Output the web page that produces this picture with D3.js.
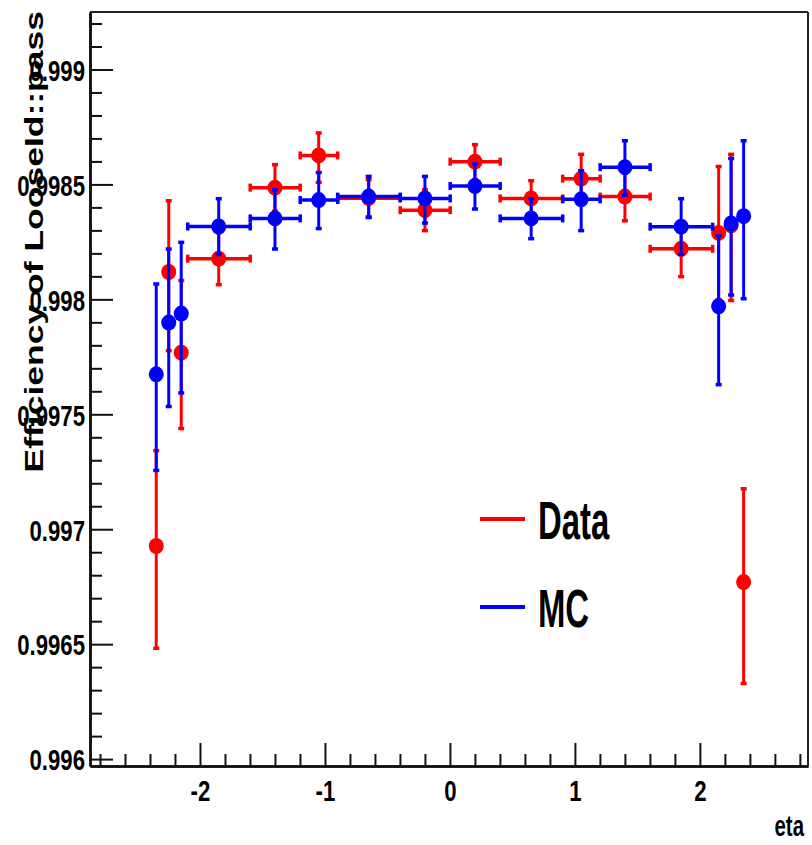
<!DOCTYPE html>
<html>
<head>
<meta charset="utf-8">
<script src="https://cdn.jsdelivr.net/npm/d3@7"></script>
<style>
  html, body { margin: 0; padding: 0; background: #fff; }
  svg { display: block; }
  text { font-family: "Liberation Sans", Arial, Helvetica, sans-serif; font-weight: bold; fill: #000; }
</style>
</head>
<body>
<svg id="chart" width="812" height="845"></svg>
<script>
// ---- data ----
const etaCenter    = [-2.35, -2.25, -2.15, -1.85, -1.4, -1.05, -0.65, -0.2, 0.2, 0.65, 1.05, 1.4, 1.85, 2.15, 2.25, 2.35];
const etaHalfWidth = [0.05, 0.05, 0.05, 0.25, 0.2, 0.15, 0.25, 0.2, 0.2, 0.25, 0.15, 0.2, 0.25, 0.05, 0.05, 0.05];

const dataEff     = [0.996927, 0.998119, 0.997768, 0.998177, 0.998486, 0.998626, 0.998440, 0.998388, 0.998599, 0.998439, 0.998525, 0.998447, 0.998220, 0.998289, 0.998322, 0.996770];
const dataErrHigh = [0.000416, 0.000311, 0.000315, 0.000114, 0.000101, 0.000099, 0.000082, 0.000090, 0.000075, 0.000078, 0.000107, 0.000103, 0.000102, 0.000290, 0.000310, 0.000407];
const dataErrLow  = [0.000444, 0.000341, 0.000329, 0.000112, 0.000102, 0.000116, 0.000080, 0.000088, 0.000077, 0.000078, 0.000108, 0.000104, 0.000120, 0.000289, 0.000326, 0.000440];

const mcEff     = [0.997674, 0.997899, 0.997938, 0.998317, 0.998352, 0.998432, 0.998447, 0.998439, 0.998493, 0.998352, 0.998435, 0.998575, 0.998316, 0.997970, 0.998330, 0.998362];
const mcErrHigh = [0.000394, 0.000321, 0.000311, 0.000122, 0.000126, 0.000121, 0.000089, 0.000097, 0.000097, 0.000087, 0.000126, 0.000116, 0.000123, 0.000307, 0.000284, 0.000329];
const mcErrLow  = [0.000417, 0.000364, 0.000344, 0.000121, 0.000132, 0.000123, 0.000090, 0.000106, 0.000099, 0.000087, 0.000135, 0.000121, 0.000120, 0.000340, 0.000310, 0.000358];

const seriesNames  = ["Data", "MC"];
const seriesColors = ["#ff0000", "#0000ff"];

const xDomain = [-2.88, 2.865];
const yDomain = [0.99597, 0.99925];
const xMajorTicks = [-2, -1, 0, 1, 2];
const yMajorTicks = [0.996, 0.9965, 0.997, 0.9975, 0.998, 0.9985, 0.999];
const xTitle = "eta";
const yTitle = "Efficiency of LooseId::pass";

(function draw() {
// ---- layout ----
const svg = d3.select("#chart");
const pL = 90, pR = 808, pT = 12, pB = 766;
const x = d3.scaleLinear().domain(xDomain).range([pL, pR]);
const y = d3.scaleLinear().domain(yDomain).range([pB, pT]);

const xMinorTicks = d3.range(-14, 15).filter(i => i % 5 !== 0).map(i => i / 5);
const yMinorTicks = d3.range(9960, 9993).filter(i => i % 5 !== 0).map(i => i / 10000);

const labelSize = 30, labelSX = 0.74;

// frame (top and right)
svg.append("line").attr("x1", pL).attr("x2", pR).attr("y1", pT).attr("y2", pT)
  .attr("stroke", "#222").attr("stroke-width", 2);
svg.append("line").attr("x1", pR).attr("x2", pR).attr("y1", pT).attr("y2", pB)
  .attr("stroke", "#222").attr("stroke-width", 2);

// y axis
svg.append("g").attr("transform", `translate(${pL},0)`)
  .call(d3.axisLeft(y).tickValues(yMinorTicks).tickFormat("").tickSizeInner(-12).tickSizeOuter(0));
const gy = svg.append("g").attr("transform", `translate(${pL},0)`)
  .call(d3.axisLeft(y).tickValues(yMajorTicks).tickFormat(d => String(+d.toFixed(4)))
    .tickSizeInner(-23).tickSizeOuter(0).tickPadding(5));
gy.selectAll(".tick text")
  .attr("x", -5 / labelSX).attr("transform", `scale(${labelSX},1)`)
  .style("font-size", labelSize + "px").attr("dy", "0.36em");

// x axis
svg.append("g").attr("transform", `translate(0,${pB})`)
  .call(d3.axisBottom(x).tickValues(xMinorTicks).tickFormat("").tickSizeInner(-12).tickSizeOuter(0));
const gx = svg.append("g").attr("transform", `translate(0,${pB})`)
  .call(d3.axisBottom(x).tickValues(xMajorTicks).tickFormat(d => String(d))
    .tickSizeInner(-23).tickSizeOuter(0).tickPadding(14));
gx.selectAll(".tick text")
  .attr("transform", `scale(${labelSX},1)`).style("font-size", labelSize + "px");

svg.selectAll(".domain").attr("stroke", "#111").attr("stroke-width", 2.5);
svg.selectAll(".tick line").attr("stroke", "#111").attr("stroke-width", 2);
svg.selectAll("g .tick text").style("font-family", "'Liberation Sans', Arial, sans-serif").style("font-weight", "bold").attr("fill", "#000");

// axis titles
svg.append("text").attr("text-anchor", "end")
  .attr("transform", `translate(804,836) scale(0.68,1)`)
  .style("font-size", "30px").text(xTitle);
svg.append("text").attr("text-anchor", "end")
  .attr("transform", `translate(43,11) scale(0.72,1) rotate(-90)`)
  .style("font-size", "35.5px").text(yTitle);

// ---- points ----
const series = [
  { eff: dataEff, hi: dataErrHigh, lo: dataErrLow, color: seriesColors[0] },
  { eff: mcEff, hi: mcErrHigh, lo: mcErrLow, color: seriesColors[1] }
];
const mr = 7.5;
series.forEach(s => {
  const g = svg.append("g");
  etaCenter.forEach((c, i) => {
    const cx = x(c), cy = y(s.eff[i]);
    const yt = y(s.eff[i] + s.hi[i]), yb = y(s.eff[i] - s.lo[i]);
    const xl = x(c - etaHalfWidth[i]), xr = x(c + etaHalfWidth[i]);
    g.append("line").attr("x1", cx).attr("x2", cx).attr("y1", yt).attr("y2", yb)
      .attr("stroke", s.color).attr("stroke-width", 3);
    [yt, yb].forEach(yy => g.append("rect").attr("x", cx - 3).attr("y", yy - 1.5)
      .attr("width", 6).attr("height", 3.5).attr("fill", s.color));
    if (cx - xl > mr) {
      g.append("line").attr("x1", xl).attr("x2", xr).attr("y1", cy).attr("y2", cy)
        .attr("stroke", s.color).attr("stroke-width", 3.5);
      [xl, xr].forEach(xx => g.append("rect").attr("x", xx - 1.5).attr("y", cy - 4)
        .attr("width", 3.5).attr("height", 8).attr("fill", s.color));
    }
    g.append("ellipse").attr("cx", cx).attr("cy", cy).attr("rx", mr).attr("ry", 8)
      .attr("fill", s.color);
  });
});

// ---- legend ----
const legendY = [519, 607];
seriesNames.forEach((name, i) => {
  svg.append("line").attr("x1", 480).attr("x2", 525).attr("y1", legendY[i]).attr("y2", legendY[i])
    .attr("stroke", seriesColors[i]).attr("stroke-width", 4);
  svg.append("text").attr("transform", `translate(538,${legendY[i] + 20}) scale(0.62,1)`)
    .style("font-size", "53px").text(name);
});
})();
</script>
</body>
</html>
